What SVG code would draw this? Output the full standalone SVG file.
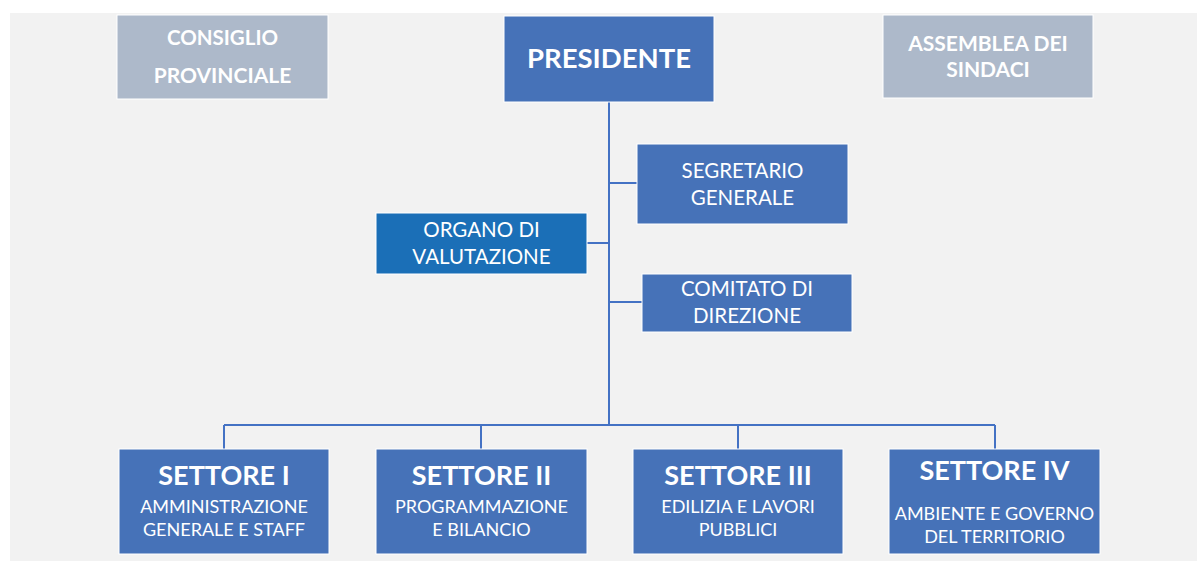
<svg xmlns="http://www.w3.org/2000/svg" width="1197" height="561" viewBox="0 0 1197 561">
<style>
.bg{fill:#f2f2f2}
.gray{fill:#adb9ca;stroke:#ffffff;stroke-width:1}
.blue{fill:#4672b8;stroke:#ffffff;stroke-width:1}
.dark{fill:#1b6fb7;stroke:#ffffff;stroke-width:1}
text{font-family:Lato,"Liberation Sans",sans-serif;fill:#ffffff;text-anchor:middle}
.b{font-weight:bold}
.t21{font-size:21px}
.t20{font-size:20.5px}
.t18{font-size:18px}
.com{font-size:20.5px}
.big{font-size:27.5px;font-weight:bold}
.set{font-size:27px;font-weight:bold}
.conn{fill:none;stroke:#4472c4;stroke-width:2}
</style>
<rect x="0" y="0" width="1197" height="561" fill="#ffffff"/>
<rect class="bg" x="10" y="13" width="1187" height="548"/>
<g id="connectors">
<path class="conn" d="M609 102V425"/>
<path class="conn" d="M609 183H637"/>
<path class="conn" d="M587 243H609"/>
<path class="conn" d="M609 302H642"/>
<path class="conn" d="M224 425H995"/>
<path class="conn" d="M224 425V449"/>
<path class="conn" d="M481 425V449"/>
<path class="conn" d="M738 425V449"/>
<path class="conn" d="M995 425V449"/>
</g>
<g id="consiglio">
<rect class="gray" x="117" y="15" width="211" height="84"/>
<text class="b t20" x="222.5" y="45">CONSIGLIO</text>
<text class="b t21" x="222.5" y="83">PROVINCIALE</text>
</g>
<g id="presidente">
<rect class="blue" x="504" y="16" width="210" height="86"/>
<text class="big" x="609" y="68">PRESIDENTE</text>
</g>
<g id="assemblea">
<rect class="gray" x="883" y="15" width="210" height="83"/>
<text class="b t21" x="988" y="51">ASSEMBLEA DEI</text>
<text class="b t21" x="988" y="77">SINDACI</text>
</g>
<g id="segretario">
<rect class="blue" x="637" y="144" width="211" height="80"/>
<text class="t20" x="742.5" y="178">SEGRETARIO</text>
<text class="t20" x="742.5" y="205">GENERALE</text>
</g>
<g id="organo">
<rect class="dark" x="376" y="213" width="211" height="61"/>
<text class="t20" x="481.5" y="237">ORGANO DI</text>
<text class="t20" x="481.5" y="264">VALUTAZIONE</text>
</g>
<g id="comitato">
<rect class="blue" x="642" y="274" width="210" height="58"/>
<text class="com" x="747" y="296">COMITATO DI</text>
<text class="com" x="747" y="323">DIREZIONE</text>
</g>
<g id="settore1">
<rect class="blue" x="119" y="449" width="210" height="105"/>
<text class="set" x="224" y="485">SETTORE I</text>
<text class="t18" x="224" y="513">AMMINISTRAZIONE</text>
<text class="t18" x="224" y="536">GENERALE E STAFF</text>
</g>
<g id="settore2">
<rect class="blue" x="376" y="449" width="211" height="105"/>
<text class="set" x="481.5" y="485">SETTORE II</text>
<text class="t18" x="481.5" y="513">PROGRAMMAZIONE</text>
<text class="t18" x="481.5" y="536">E BILANCIO</text>
</g>
<g id="settore3">
<rect class="blue" x="633" y="449" width="210" height="105"/>
<text class="set" x="738" y="485">SETTORE III</text>
<text class="t18" x="738" y="513">EDILIZIA E LAVORI</text>
<text class="t18" x="738" y="536">PUBBLICI</text>
</g>
<g id="settore4">
<rect class="blue" x="889" y="449" width="211" height="105"/>
<text class="set" x="994.5" y="480">SETTORE IV</text>
<text class="t18" x="994.5" y="520">AMBIENTE E GOVERNO</text>
<text class="t18" x="994.5" y="543">DEL TERRITORIO</text>
</g>
</svg>
